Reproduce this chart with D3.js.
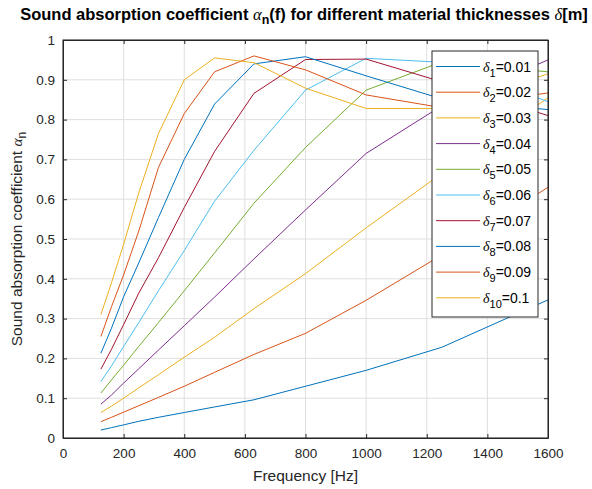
<!DOCTYPE html>
<html>
<head>
<meta charset="utf-8">
<script src="https://cdn.jsdelivr.net/npm/d3@7"></script>
<style>
  body { margin: 0; background: #fff; }
  text { font-family: "Liberation Sans", Arial, sans-serif; }
  .greek { font-family: "Liberation Serif", "DejaVu Serif", serif; font-style: italic; }
</style>
</head>
<body>
<div id="chart"></div>
<script>
// third-octave band centres [Hz]
var freqs = [125, 160, 200, 250, 315, 400, 500, 630, 800, 1000, 1250, 1600];
var thick = [0.01, 0.02, 0.03, 0.04, 0.05, 0.06, 0.07, 0.08, 0.09, 0.1];

// absorption coefficient per thickness
var a1  = [0.020, 0.026, 0.033, 0.042, 0.052, 0.064, 0.078, 0.096, 0.130, 0.170, 0.228, 0.347];
var a2  = [0.041, 0.052, 0.065, 0.081, 0.102, 0.130, 0.165, 0.210, 0.263, 0.346, 0.460, 0.630];
var a3  = [0.064, 0.080, 0.100, 0.126, 0.159, 0.203, 0.253, 0.325, 0.413, 0.528, 0.665, 0.855];
var a4  = [0.085, 0.108, 0.138, 0.174, 0.221, 0.282, 0.354, 0.450, 0.573, 0.715, 0.835, 0.950];
var a5  = [0.113, 0.146, 0.183, 0.230, 0.290, 0.370, 0.465, 0.590, 0.730, 0.874, 0.945, 0.920];
var a6  = [0.142, 0.181, 0.230, 0.290, 0.370, 0.471, 0.595, 0.723, 0.874, 0.954, 0.944, 0.845];
var a7  = [0.173, 0.223, 0.285, 0.364, 0.453, 0.579, 0.720, 0.866, 0.951, 0.952, 0.895, 0.810];
var a8  = [0.213, 0.276, 0.355, 0.440, 0.554, 0.700, 0.839, 0.940, 0.958, 0.910, 0.852, 0.825];
var a9  = [0.255, 0.330, 0.410, 0.520, 0.680, 0.815, 0.920, 0.960, 0.925, 0.862, 0.830, 0.867];
var a10 = [0.310, 0.390, 0.487, 0.616, 0.765, 0.900, 0.955, 0.943, 0.879, 0.828, 0.828, 0.915];
var series = [a1, a2, a3, a4, a5, a6, a7, a8, a9, a10];

var xTicks = [0, 200, 400, 600, 800, 1000, 1200, 1400, 1600];
var yTicks = [0, 0.1, 0.2, 0.3, 0.4, 0.5, 0.6, 0.7, 0.8, 0.9, 1];

var colors = ['#0072BD', '#D95319', '#EDB120', '#7E2F8E', '#77AC30',
  '#4DBEEE', '#A2142F', '#0072BD', '#D95319', '#EDB120'];

var svgWidth = 592, svgHeight = 489;
var margin = { top: 40, right: 44, bottom: 51, left: 63 };
var width = svgWidth - margin.left - margin.right;
var height = svgHeight - margin.top - margin.bottom;

var svg = d3.select('#chart').append('svg')
  .attr('width', svgWidth)
  .attr('height', svgHeight);
var g = svg.append('g')
  .attr('transform', 'translate(' + margin.left + ',' + margin.top + ')');

var x = d3.scaleLinear().domain([0, 1600]).range([0, width]);
var y = d3.scaleLinear().domain([0, 1]).range([height, 0]);

// grid
g.append('g').selectAll('line').data(xTicks).enter().append('line')
  .attr('x1', d => x(d)).attr('x2', d => x(d))
  .attr('y1', 0).attr('y2', height)
  .attr('stroke', '#dfdfdf').attr('stroke-width', 1);
g.append('g').selectAll('line').data(yTicks).enter().append('line')
  .attr('y1', d => y(d)).attr('y2', d => y(d))
  .attr('x1', 0).attr('x2', width)
  .attr('stroke', '#dfdfdf').attr('stroke-width', 1);

// curves
var line = d3.line()
  .x((d, i) => x(freqs[i]))
  .y(d => y(d));
g.append('g').selectAll('path').data(series).enter().append('path')
  .attr('d', line)
  .attr('fill', 'none')
  .attr('stroke', (d, i) => colors[i])
  .attr('stroke-width', 1);

// axes (MATLAB style: ticks inward, box)
g.append('g')
  .attr('transform', 'translate(0,' + height + ')')
  .call(d3.axisBottom(x).tickValues(xTicks).tickSizeInner(-4).tickSizeOuter(0).tickPadding(10)
    .tickFormat(d3.format('d')));
g.append('g')
  .call(d3.axisLeft(y).tickValues(yTicks).tickSizeInner(-4).tickSizeOuter(0).tickPadding(8)
    .tickFormat(d3.format('')));
g.append('g')
  .attr('transform', 'translate(' + width + ',0)')
  .call(d3.axisRight(y).tickValues(yTicks).tickSizeInner(-4).tickSizeOuter(0).tickFormat(''));
g.append('g')
  .call(d3.axisTop(x).tickValues(xTicks).tickSizeInner(-4).tickSizeOuter(0).tickFormat(''));
g.selectAll('.domain').attr('stroke', '#262626');
g.selectAll('.tick line').attr('stroke', '#262626');
g.selectAll('.tick text').attr('fill', '#262626').attr('font-size', 13.5)
  .style('font-family', '"Liberation Sans", Arial, sans-serif');

g.append('rect')
  .attr('width', width).attr('height', height)
  .attr('fill', 'none').attr('stroke', '#262626').attr('stroke-width', 1);

// legend
var lg = g.append('g').attr('transform', 'translate(' + (432 - margin.left) + ',' + (51 - margin.top) + ')');
lg.append('rect')
  .attr('width', 106).attr('height', 266)
  .attr('fill', '#fff').attr('stroke', '#262626').attr('stroke-width', 1);
var item = lg.selectAll('.item').data(thick).enter().append('g')
  .attr('transform', (d, i) => 'translate(0,' + (15.5 + i * 25.7) + ')');
item.append('line')
  .attr('x1', 4).attr('x2', 48)
  .attr('stroke', (d, i) => colors[i]).attr('stroke-width', 1);
var lt = item.append('text')
  .attr('x', 51).attr('y', 5)
  .attr('font-size', 14).attr('fill', '#000');
lt.append('tspan').attr('class', 'greek').text('δ');
lt.append('tspan').attr('dy', 5).attr('font-size', 11).text((d, i) => i + 1);
lt.append('tspan').attr('dy', -5).text(d => '=' + d);

// title
var title = svg.append('text')
  .attr('x', 304).attr('y', 20)
  .attr('text-anchor', 'middle')
  .attr('font-size', 16.5).attr('font-weight', 'bold').attr('fill', '#000');
title.append('tspan').text('Sound absorption coefficient ');
title.append('tspan').attr('class', 'greek').attr('font-weight', 'normal').text('α');
title.append('tspan').attr('dy', 4).attr('font-size', 12.5).text('n');
title.append('tspan').attr('dy', -4).text('(f) for different material thicknesses ');
title.append('tspan').attr('class', 'greek').attr('font-weight', 'normal').text('δ');
title.append('tspan').text('[m]');

// axis labels
svg.append('text')
  .attr('x', margin.left + width / 2).attr('y', 481)
  .attr('text-anchor', 'middle')
  .attr('font-size', 15.5).attr('fill', '#262626')
  .text('Frequency [Hz]');

var yl = svg.append('text')
  .attr('transform', 'translate(22,' + (margin.top + height / 2) + ') rotate(-90)')
  .attr('text-anchor', 'middle')
  .attr('font-size', 15.5).attr('fill', '#262626');
yl.append('tspan').text('Sound absorption coefficient ');
yl.append('tspan').attr('class', 'greek').text('α');
yl.append('tspan').attr('dy', 4).attr('font-size', 12).text('n');
</script>
</body>
</html>
